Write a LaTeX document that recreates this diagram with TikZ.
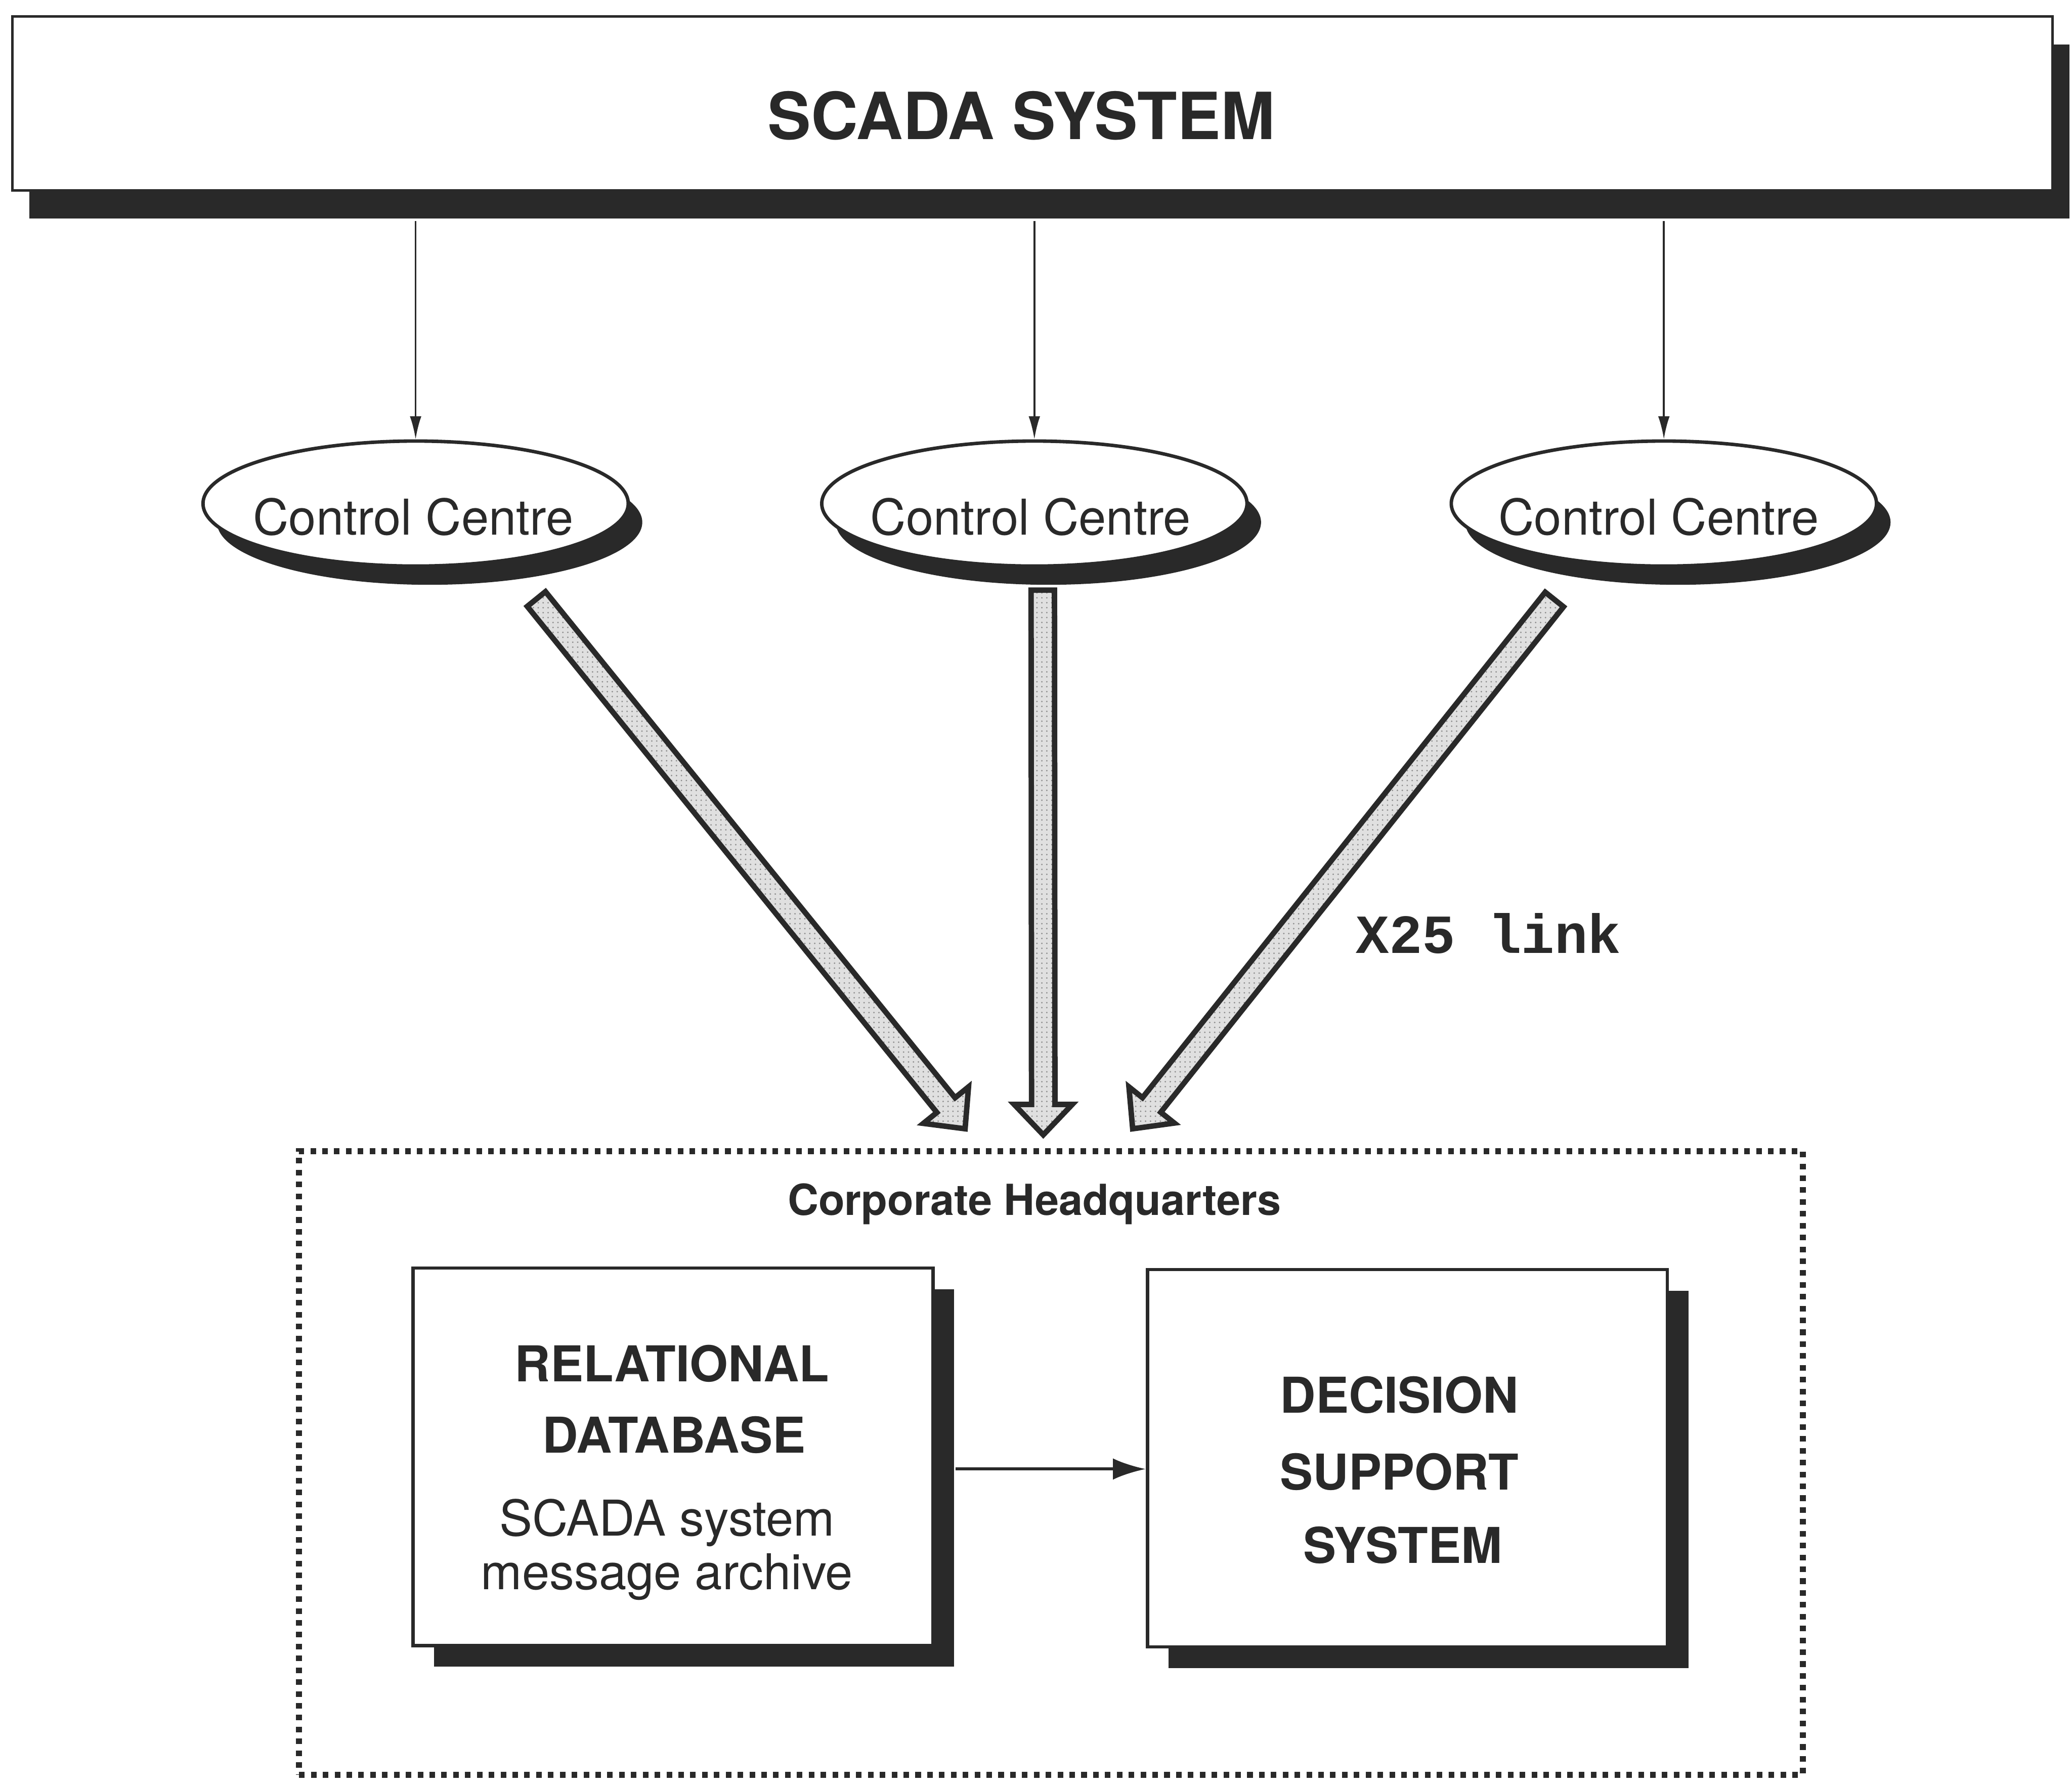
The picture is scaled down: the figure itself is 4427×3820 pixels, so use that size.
\documentclass[tikz,border=0pt]{standalone}
\usepackage{fontspec}
\setmainfont{TeX Gyre Heros}
\newfontfamily\typewriter{Liberation Mono}
\usetikzlibrary{shapes.geometric,shadows,calc,arrows.meta,patterns}
\definecolor{ink}{gray}{0.16}

% wide hollow arrow between two named coordinates
\newcommand\fatlink[2]{%
  \coordinate (#1-b) at ($(#2)!0.65cm!(#1)$);
  \draw[fatarrow]
    ($(#1)!0.25cm!90:(#2)$) --
    ($(#1-b)!0.25cm!90:(#2)$) --
    ($(#1-b)!0.62cm!90:(#2)$) --
    (#2) --
    ($(#1-b)!0.62cm!-90:(#2)$) --
    ($(#1-b)!0.25cm!-90:(#2)$) --
    ($(#1)!0.25cm!-90:(#2)$) -- cycle;
}

\begin{document}
\begin{tikzpicture}[x=0.01cm,y=-0.01cm,
  sysbox/.style={rectangle, draw=ink, line width=1.4pt, fill=white, inner sep=0pt,
    minimum width=43.56cm, minimum height=3.72cm,
    general shadow={fill=ink, shadow xshift=.36cm, shadow yshift=-.6cm}},
  centre/.style={ellipse, draw=ink, line width=2.1pt, fill=white, inner sep=0pt,
    minimum width=9.08cm, minimum height=2.67cm,
    general shadow={fill=ink, shadow xshift=.3cm, shadow yshift=-.4cm}},
  unitbox/.style={rectangle, draw=ink, line width=2pt, fill=white, inner sep=0pt,
    minimum width=11.1cm, minimum height=8.06cm,
    general shadow={fill=ink, shadow xshift=.45cm, shadow yshift=-.45cm}},
  hqframe/.style={rectangle, draw=ink, line width=3.6pt, dash pattern=on 3.4pt off 3.8pt,
    inner sep=0pt, minimum width=32.11cm, minimum height=13.32cm},
  feed/.style={draw=ink, line width=1.1pt, -{Latex[length=14pt,width=7pt]}},
  flow/.style={draw=ink, line width=1.8pt, -{Latex[length=20pt,width=13pt]}},
  fatarrow/.style={draw=ink, line width=3.3pt, line join=miter,
    preaction={fill=black!12}, pattern=dots, pattern color=black!45},
  txt/.style={text=ink, anchor=base, inner sep=0pt},
  big/.style={txt, font=\fontsize{39.5pt}{44pt}\selectfont\bfseries},
  mid/.style={txt, font=\fontsize{30pt}{34pt}\selectfont},
  midb/.style={txt, font=\fontsize{30pt}{34pt}\selectfont\bfseries},
  small/.style={txt, font=\fontsize{26pt}{30pt}\selectfont\bfseries},
  mono/.style={txt, font=\fontsize{33.5pt}{38pt}\selectfont\typewriter\bfseries}
]
\path[fill=white] (0,0) rectangle (4427,3820);
\useasboundingbox (0,0) rectangle (4427,3820);

% SCADA system bar
\node[sysbox] (scada) at (2206,221) {};
\node[big] (scadatitle) at (2182,298) {SCADA SYSTEM};
\coordinate (feedtop) at ([yshift=-.63cm]scada.south);

% control centres
\node[centre] (cc1) at (888,1076) {};
\node[centre] (cc2) at (2210,1076) {};
\node[centre] (cc3) at (3555,1076) {};
\node[mid] (cc1label) at (883,1143) {Control Centre};
\node[mid] (cc2label) at (2202,1143) {Control Centre};
\node[mid] (cc3label) at (3544,1143) {Control Centre};

\draw[feed] (cc1.north |- feedtop) -- (cc1.north);
\draw[feed] (cc2.north |- feedtop) -- (cc2.north);
\draw[feed] (cc3.north |- feedtop) -- (cc3.north);

% corporate headquarters
\node[hqframe] (hq) at (2245.5,3126) {};
\node[small] (hqlabel) at (2210,2597) {Corporate Headquarters};

\node[unitbox] (db) at (1438,3113) {};
\node[unitbox] (dss) at (3007,3116) {};
\node[midb] (dbl1) at (1436,2952) {RELATIONAL};
\node[midb] (dbl2) at (1440,3105) {DATABASE};
\node[mid] (dbl3) at (1425,3282) {SCADA system};
\node[mid] (dbl4) at (1425,3396) {message archive};
\node[midb] (dssl1) at (2990,3019) {DECISION};
\node[midb] (dssl2) at (2990,3184) {SUPPORT};
\node[midb] (dssl3) at (2997,3340) {SYSTEM};

\coordinate (dbout) at ([xshift=.45cm,yshift=-.26cm]db.east);
\draw[flow] (dbout) -- (dbout -| dss.west);

% X25 links
\coordinate (l1s) at (1146,1280);
\coordinate (l1e) at (2062,2412);
\coordinate (l2s) at (2228,1261);
\coordinate (l2e) at (2229,2425);
\coordinate (l3s) at (3321,1281);
\coordinate (l3e) at (2420,2412);
\fatlink{l1s}{l1e}
\fatlink{l2s}{l2e}
\fatlink{l3s}{l3e}
\node[mono] (x25) at (3180,2037) {X25 link};
\end{tikzpicture}
\end{document}
